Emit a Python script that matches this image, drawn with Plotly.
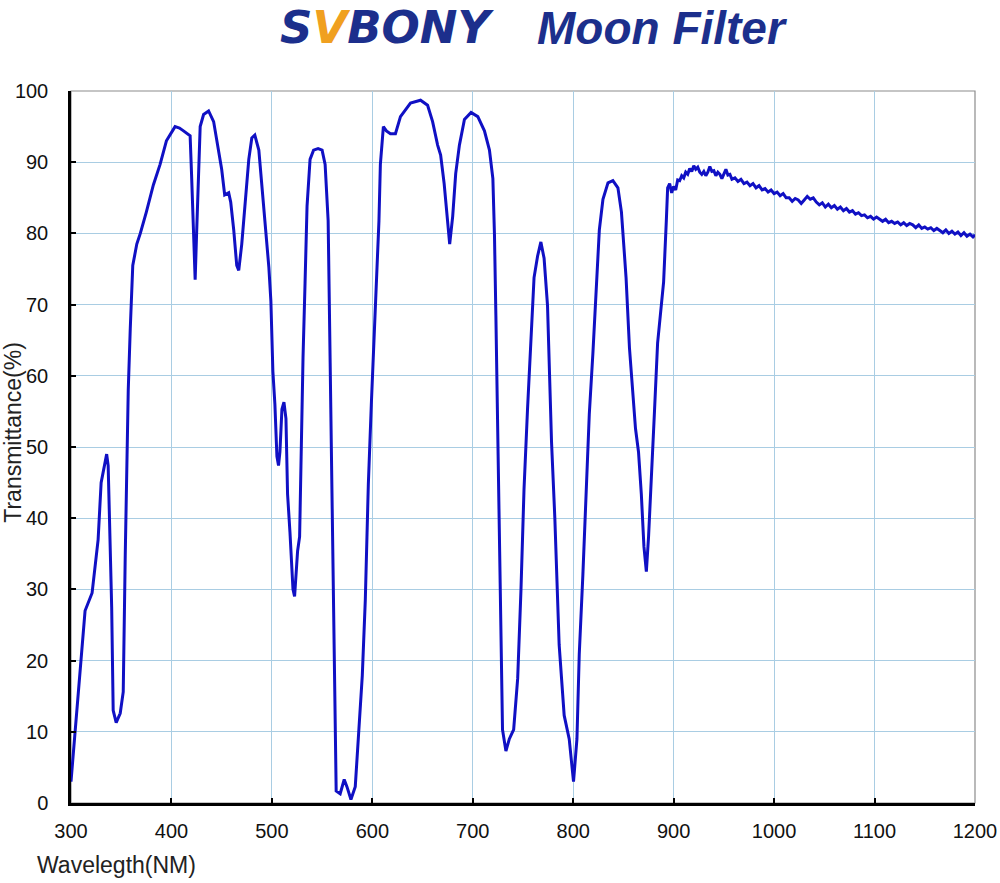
import plotly.graph_objects as go

# transmission curve (wavelength nm, transmittance %)
wavelength = [
    300, 304, 307, 311, 314, 321, 324, 327, 330, 335.5, 337, 339, 340.5, 342, 345, 349, 352,
    354, 355.5, 357, 359, 361.5, 365.5, 369, 375, 382, 388.7, 395, 403.6, 408, 412, 418.6,
    420, 422, 423.6, 425, 427, 428.6, 432, 437, 442, 445, 450, 453, 457, 459, 462, 465, 467,
    470, 473, 477, 480, 483, 487, 490, 493, 497, 499, 501, 503, 505, 506.6, 508, 510, 512,
    514, 515.6, 518, 521, 522.6, 525.6, 527.6, 529, 531, 533, 535, 538, 541.5, 546, 550, 553,
    556, 558, 561, 562, 564, 568, 572, 574.7, 578.7, 583, 586, 590, 593, 596, 599, 601, 603,
    606.6, 608, 611, 614, 618, 623, 628, 638, 648, 655, 660, 665, 668, 671.5, 675, 677, 680,
    683, 686.7, 691.7, 698.3, 705, 711.6, 716.6, 720, 721.6, 723, 725, 728, 729.6, 733, 736.4,
    740.7, 744.7, 748, 751, 754.5, 758, 761, 764.5, 767.8, 771, 774.4, 778.4, 781.7, 786, 791,
    796, 800.3, 803.7, 806, 809.6, 813, 816, 819.6, 823, 826, 829.6, 834.6, 839.5, 844.5, 848,
    852.6, 856, 859.6, 862, 865, 867.8, 870.4, 872.8, 875, 877.7, 881, 884, 887.7, 890, 892.7,
    894, 896, 898, 900, 902, 904, 906, 908, 910, 912, 914, 916, 918, 920, 922, 924, 926, 928,
    930, 932, 934, 936, 938, 940, 942, 944, 946, 948, 950, 952, 954, 956, 958, 961, 964, 967,
    970, 973, 976, 979, 982, 985, 988, 991, 994, 997, 1000, 1003, 1006, 1009, 1012, 1015,
    1018, 1021, 1024, 1027, 1030, 1033, 1036, 1039, 1042, 1045, 1048, 1051, 1054, 1057, 1060,
    1063, 1066, 1069, 1072, 1075, 1078, 1081, 1084, 1087, 1090, 1093, 1096, 1099, 1102, 1105,
    1108, 1111, 1114, 1117, 1120, 1123, 1126, 1129, 1132, 1135, 1138, 1141, 1144, 1147, 1150,
    1153, 1156, 1159, 1162, 1165, 1168, 1171, 1174, 1177, 1180, 1183, 1186, 1189, 1192, 1195,
    1198, 1200,
]
transmittance = [
    3, 9.6, 15.6, 21, 27, 29.5, 33, 37, 45, 49, 47.4, 35.4, 27.5, 13, 11.3, 12.6, 15.6,
    34.8, 47.4, 58, 66.6, 75.5, 78.5, 80, 83, 86.8, 89.7, 93, 95, 94.8, 94.4, 93.7,
    88.4, 78.5, 73.5, 79.8, 89, 95, 96.7, 97.2, 95.7, 93, 89, 85.4, 85.7, 84.4, 80.5, 75.5, 74.8,
    78.5, 83.8, 90.4, 93.4, 93.8, 91.7, 87, 81.8, 75.2, 70.5, 60.6, 56, 48.7, 47.4, 49.3, 55.3, 56.3,
    54, 43.4, 38, 30, 29, 35.4, 37.4, 48.7, 62.6, 73, 83.8, 90.4, 91.7, 91.9, 91.7, 89.7,
    81.8, 61.9, 33.4, 19.2, 1.7, 1.3, 3.3, 2.3, 0.5, 2.3, 9.6, 17.9, 28.5, 44.7, 56, 63.2, 70.5,
    81.8, 89.7, 95, 94.4, 94, 94, 96.4, 98.3, 98.7, 98, 95.7, 92.4, 91, 87, 81, 78.5, 82.4,
    88.4, 92.4, 96, 97, 96.4, 94.4, 91.7, 87.7, 79.8, 68.5, 50.7, 20.2, 10.3, 7.3, 9,
    10.3, 17.5, 30, 44, 55.3, 65.9, 73.8, 76.8, 78.8, 76.5, 69.9, 50.7, 40, 22.2, 12.3,
    9, 3, 9, 20.9, 32, 43.4, 54.6, 63.2, 73.2, 80.5, 84.8, 87.1, 87.4, 86.4, 83,
    73.8, 63.9, 56.6, 52.6, 49.3, 43.4, 36, 32.5, 37.4, 44.7, 55.3, 64.6, 69.9, 73.2, 81.8,
    86.4, 87.0, 85.7, 86.6, 86.1, 87.5, 87.4, 88.1, 87.8, 88.6, 88.3, 89.1, 88.7, 89.5, 89.0,
    89.3, 88.6, 88.3, 88.7, 88.1, 88.6, 89.4, 88.7, 88.8, 88.1, 88.6, 88.3, 87.7, 88.3, 89.0,
    88.2, 88.3, 87.6, 87.8, 87.3, 87.6, 87.0, 87.2, 86.7, 87.0, 86.4, 86.7, 86.1, 86.3, 85.8,
    86.1, 85.6, 85.8, 85.3, 85.6, 85.0, 85.0, 84.5, 84.9, 84.7, 84.2, 84.7, 85.2, 84.8, 85.0,
    84.4, 84.0, 84.3, 83.7, 84.1, 83.6, 83.9, 83.4, 83.7, 83.2, 83.5, 83.0, 83.2, 82.7, 82.9,
    82.5, 82.6, 82.2, 82.4, 82.0, 82.3, 82.0, 81.7, 82.0, 81.5, 81.7, 81.4, 81.6, 81.2, 81.5,
    81.1, 81.4, 81.2, 80.8, 81.2, 80.7, 80.9, 80.6, 80.8, 80.4, 80.7, 80.4, 80.1, 80.5, 80.0,
    80.3, 79.9, 80.2, 79.7, 80.1, 79.6, 79.9, 79.5, 79.8, 79.3, 79.6, 79.2, 79.5, 79.3, 79.7,
    79.3, 79.6,
]

x_ticks = list(range(300, 1201, 100))
y_ticks = list(range(0, 101, 10))

fig = go.Figure()
fig.add_trace(go.Scatter(x=wavelength, y=transmittance, mode='lines',
                         line=dict(color='#1010c4', width=3), showlegend=False))

axis_font = dict(family='Liberation Sans, Arial', size=20, color='#111111')
fig.update_xaxes(range=[300, 1200], tickvals=x_ticks, showgrid=True, gridcolor='#a9cde3',
                 gridwidth=1, zeroline=False, showline=True, linecolor='black', linewidth=2.5,
                 ticks='inside', ticklen=5, tickwidth=2, tickcolor='black', tickfont=axis_font,
                 ticklabelstandoff=8, automargin=False)
fig.update_yaxes(range=[0, 100], tickvals=y_ticks, showgrid=True, gridcolor='#a9cde3',
                 gridwidth=1, zeroline=False, showline=True, linecolor='black', linewidth=2.5,
                 ticks='inside', ticklen=5, tickwidth=2, tickcolor='black', tickfont=axis_font,
                 ticklabelstandoff=16, automargin=False)

# gray frame on top and right
fig.add_shape(type='rect', xref='paper', yref='paper', x0=0, y0=0, x1=1, y1=1,
              line=dict(color='#8c8c8c', width=1.2), layer='below')

title_font = dict(family='Liberation Sans, Arial', size=23, color='#222222')
fig.add_annotation(text='Transmittance(%)', xref='paper', yref='paper', x=-0.0645, y=0.521,
                   xanchor='center', yanchor='middle', textangle=-90, showarrow=False,
                   font=title_font)
fig.add_annotation(text='Wavelegth(NM)', xref='paper', yref='paper', x=-0.04, y=-0.087,
                   xanchor='left', yanchor='middle', showarrow=False, font=title_font)

# heading: brand logo text and product name
fig.add_annotation(text="<b><i>S<span style='color:#f0a020'>V</span>BONY</i></b>",
                   xref='paper', yref='paper', x=(387 - 71) / 904, y=1.089, xanchor='center',
                   yanchor='middle', showarrow=False,
                   font=dict(family='DejaVu Sans, Arial', size=45, color='#1c2f8c'))
fig.add_annotation(text='<b><i>Moon Filter</i></b>',
                   xref='paper', yref='paper', x=(662 - 71) / 904, y=1.089, xanchor='center',
                   yanchor='middle', showarrow=False,
                   font=dict(family='Liberation Sans, Arial', size=46, color='#1c2f8c'))

fig.update_layout(width=1000, height=883, plot_bgcolor='white', paper_bgcolor='white',
                  margin=dict(l=71, r=25, t=91, b=80))

fig.write_html('out.html', config={'displayModeBar': False},
               post_script="document.body.style.margin = '0';")
